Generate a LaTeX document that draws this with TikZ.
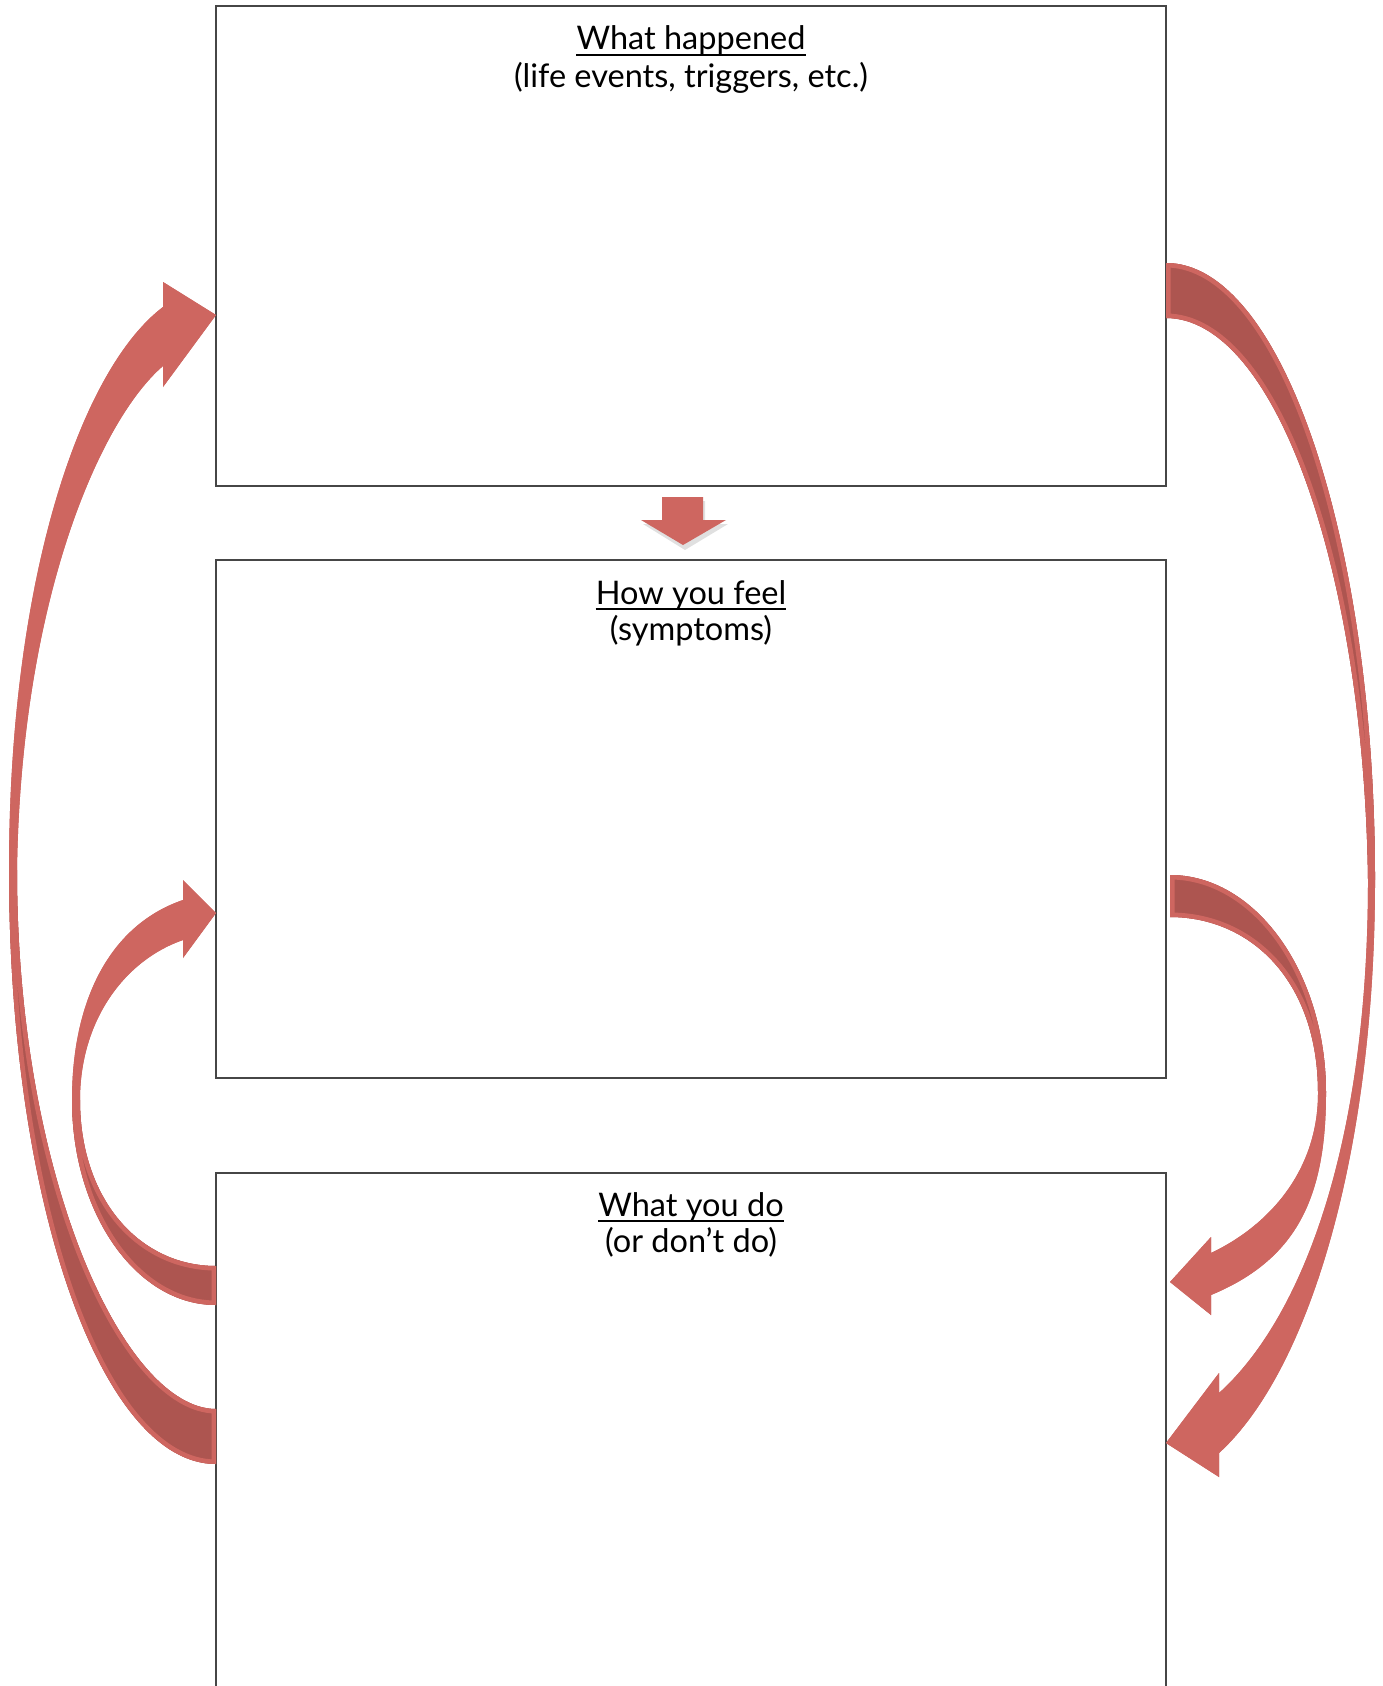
\documentclass[tikz,border=0pt]{standalone}
\usepackage{fontspec}
\setmainfont{Lato}
\usetikzlibrary{calc}
\definecolor{arrowlight}{RGB}{206,102,96}
\definecolor{arrowdark}{RGB}{173,85,80}
\definecolor{boxline}{RGB}{70,70,70}
\tikzset{
  panel/.style={draw=boxline, line width=1.3pt, fill=white, inner sep=0pt},
  title/.style={anchor=base, font=\fontsize{32.5}{36}\selectfont, inner sep=0pt},
  uline/.style={line width=2pt, black},
  rim/.style={draw=arrowlight, line width=9pt, line join=round},
}
% silhouettes of the curved arrows
\def\silA{(216,1464) .. controls (102,1464) and (9,1205) .. (9,870)
  .. controls (9,580) and (80,370) .. (163,307) -- (163,282) -- (216,315) -- (163,387) -- (163,366)
  .. controls (100,420) and (21,600) .. (17,870)
  .. controls (17,1180) and (125,1409) .. (216,1409) -- cycle}
\def\silB{(1166,263) .. controls (1282,263) and (1375,540) .. (1375,880)
  .. controls (1375,1150) and (1310,1370) .. (1219,1453) -- (1219,1477) -- (1166,1443) -- (1219,1373) -- (1219,1393)
  .. controls (1300,1320) and (1368,1150) .. (1368,880)
  .. controls (1364,570) and (1275,318) .. (1166,318) -- cycle}
\def\silC{(1170,875) .. controls (1256,875) and (1326,973) .. (1326,1093)
  .. controls (1326,1200) and (1295,1260) .. (1211,1295) -- (1211,1315) -- (1170,1282) -- (1211,1237) -- (1211,1253)
  .. controls (1270,1225) and (1318,1170) .. (1318,1093)
  .. controls (1318,980) and (1250,917) .. (1170,917) -- cycle}
\def\silD{(216,1305) .. controls (136,1305) and (72,1213) .. (72,1100)
  .. controls (72,1000) and (110,925) .. (183,900) -- (183,880) -- (216,913) -- (183,958) -- (183,940)
  .. controls (125,960) and (80,1020) .. (80,1100)
  .. controls (80,1200) and (140,1266) .. (216,1266) -- cycle}
\begin{document}
\begin{tikzpicture}[x=1pt,y=-1pt]
\useasboundingbox (0,0) rectangle (1383,1686);
\fill[white] (0,0) rectangle (1383,1686);

% boxes
\node[panel, minimum width=950pt, minimum height=480pt] (b1) at (691,246) {};
\node[panel, minimum width=950pt, minimum height=518pt] (b2) at (691,819) {};
\node[panel, minimum width=950pt, minimum height=560pt] (b3) at (691,1453) {};

% texts
\node[title] (t1a) at (691,50) {What happened};
\node[title] (t1b) at (691,87) {(life events, triggers, etc.)};
\node[title] (t2a) at (691,604) {How you feel};
\node[title] (t2b) at (691,640) {(symptoms)};
\node[title] (t3a) at (691,1216) {What you do};
\node[title] (t3b) at (691,1252) {(or don’t do)};
\foreach \t in {t1a,t2a,t3a}
  \draw[uline] ($(\t.base west)+(0,5)$) -- ($(\t.base east)+(0,5)$);

% down arrow between box 1 and box 2
\fill[black, opacity=0.12] (664,501) -- (705,501) -- (705,524) -- (728,524) -- (685,550) -- (643,524) -- (664,524) -- cycle;
\fill[arrowlight] (662,497) -- (703,497) -- (703,520) -- (726,520) -- (683,545) -- (641,520) -- (662,520) -- cycle;

% Arrow A: box3 -> box1
\fill[arrowlight] \silA;
\begin{scope}
  \clip \silA;
  \fill[arrowdark] (0,870) rectangle (230,1500);
  \path[rim] \silA;
\end{scope}

% Arrow B: box1 -> box3
\fill[arrowlight] \silB;
\begin{scope}
  \clip \silB;
  \fill[arrowdark] (1150,250) rectangle (1400,880);
  \path[rim] \silB;
\end{scope}

% Arrow C: box2 -> box3
\fill[arrowlight] \silC;
\begin{scope}
  \clip \silC;
  \fill[arrowdark] (1150,860) rectangle (1340,1093);
  \path[rim] \silC;
\end{scope}

% Arrow D: box3 -> box2
\fill[arrowlight] \silD;
\begin{scope}
  \clip \silD;
  \fill[arrowdark] (60,1100) rectangle (230,1320);
  \path[rim] \silD;
\end{scope}
\end{tikzpicture}
\end{document}
